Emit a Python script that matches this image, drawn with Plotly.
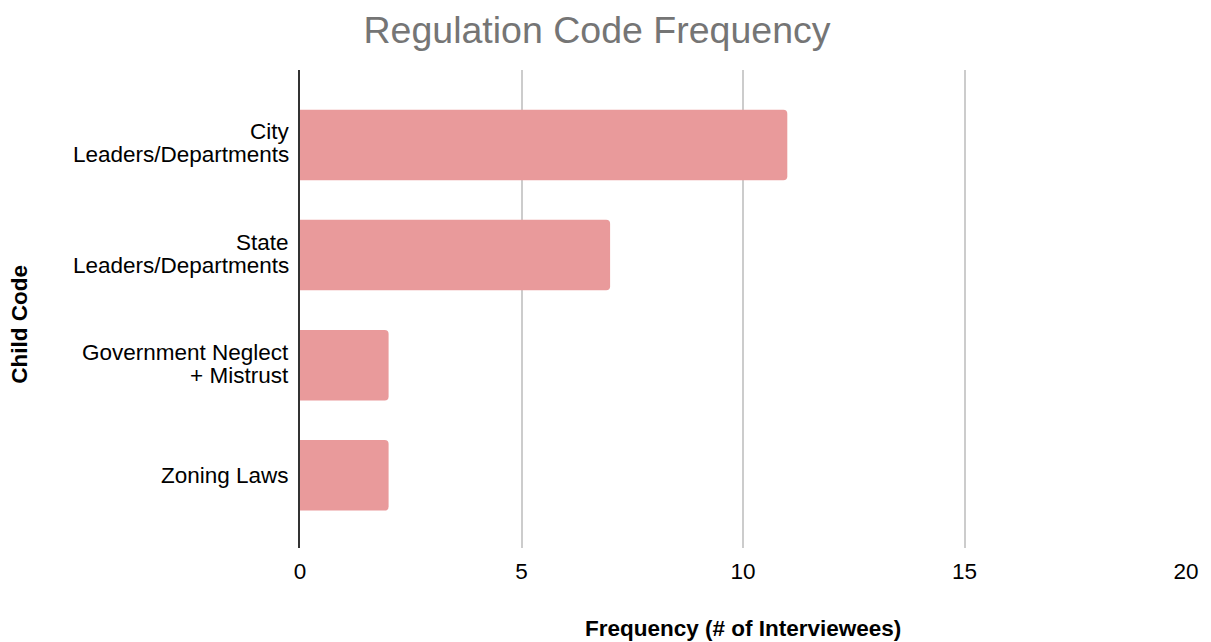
import plotly.graph_objects as go

# Child codes and how many interviewees mentioned each
categories = ["City<br>Leaders/Departments", "State<br>Leaders/Departments",
              "Government Neglect<br>+ Mistrust", "Zoning Laws"]
frequency = [11, 7, 2, 2]
x_ticks = [0, 5, 10, 15, 20]

FONT = "Arial"
LABEL_SIZE = 22.5
LINE_GAP = 23  # px between the lines of a wrapped category label

fig = go.Figure(go.Bar(
    x=frequency,
    y=categories,
    orientation="h",
    marker=dict(color="#e99a9b", line=dict(width=0)),
    width=0.64,
))

# Category labels drawn line by line so the wrapped lines sit close together
label_annotations = []
for cat in categories:
    lines = cat.split("<br>")
    n = len(lines)
    for i, line in enumerate(lines):
        offset = ((n - 1) / 2 - i) * LINE_GAP
        label_annotations.append(dict(
            text=line, xref="paper", yref="y", x=0, y=cat,
            xanchor="right", yanchor="middle", xshift=-9,
            yshift=offset + (1.5 if n > 1 else 0),
            showarrow=False, font=dict(family=FONT, size=LABEL_SIZE, color="#000"),
        ))

fig.update_layout(
    width=1211, height=642,
    margin=dict(l=300, r=25, t=70, b=94),
    paper_bgcolor="white", plot_bgcolor="white",
    barcornerradius=4,
    font=dict(family=FONT, color="#000", size=LABEL_SIZE),
    title=dict(text="Regulation Code Frequency", x=0.493, xref="container", xanchor="center",
               y=0.953, yref="container", yanchor="middle",
               font=dict(family=FONT, size=37.5, color="#757575")),
    showlegend=False,
    xaxis=dict(range=[0, 20], tickvals=x_ticks, showgrid=True, gridcolor="#cccccc",
               gridwidth=1.5, zeroline=False, showline=False, ticks="",
               ticklabelstandoff=7, tickfont=dict(family=FONT, size=LABEL_SIZE)),
    yaxis=dict(type="category", categoryorder="array", categoryarray=categories,
               range=[3.66, -0.68], showgrid=False, zeroline=False,
               showline=True, linecolor="#333333", linewidth=1.5, ticks="",
               showticklabels=False),
    annotations=label_annotations + [
        dict(text="<b>Frequency (# of Interviewees)</b>", xref="paper", yref="paper",
             x=0.5, y=-0.169, xanchor="center", yanchor="middle", showarrow=False,
             font=dict(family=FONT, size=LABEL_SIZE)),
        dict(text="<b>Child Code</b>", xref="paper", yref="paper",
             x=-0.316, y=0.467, xanchor="center", yanchor="middle", showarrow=False,
             textangle=-90, font=dict(family=FONT, size=LABEL_SIZE)),
    ],
)

fig.write_html("out.html")
